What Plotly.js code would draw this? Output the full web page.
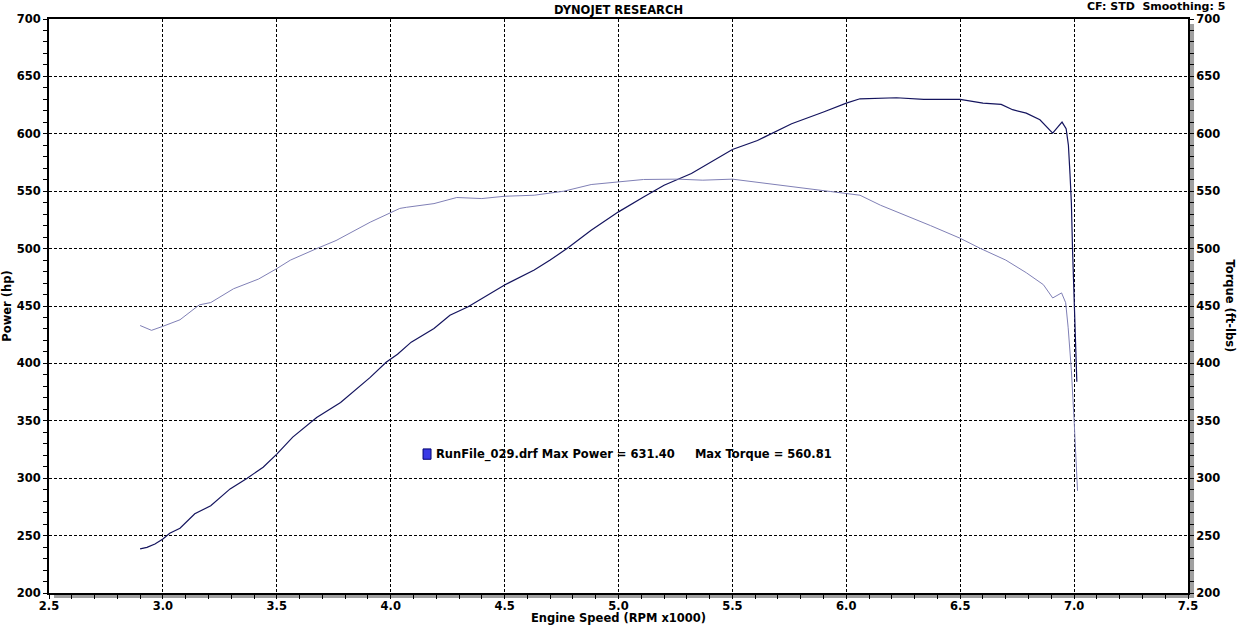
<!DOCTYPE html>
<html>
<head>
<meta charset="utf-8">
<script src="https://cdn.plot.ly/plotly-3.0.1.min.js"></script>
<style>html,body{margin:0;padding:0;background:#fff;}#chart{width:1237px;height:625px;}</style>
</head>
<body>
<div id="chart"></div>
<script>
// Engine speed (RPM x1000) and Power (hp)
var powerRpm = [2.90,2.93,2.965,3.00,3.03,3.075,3.14,3.21,3.295,3.37,3.44,3.50,3.57,3.675,3.78,3.91,3.98,4.03,4.09,4.19,4.26,4.34,4.50,4.63,4.70,4.78,4.88,5.00,5.11,5.20,5.32,5.40,5.50,5.61,5.76,5.90,6.00,6.06,6.22,6.34,6.50,6.60,6.68,6.73,6.79,6.85,6.906,6.928,6.947,6.965,6.975,6.982,6.988,6.993,7.000,7.007,7.012];
var power    = [238.5,239.8,242.7,247,252,256.4,269,276,290.7,300,309.6,321,335.8,352.9,366,387.8,401,408,418.5,430.5,442,449.4,468.3,481.4,490,500.9,516,532,545,555.2,565.4,574.7,586.3,594.2,608.7,619,626.7,630.5,631.4,629.9,629.9,626.7,625.6,621,618,612.2,600.6,605.8,610.2,604.4,590,565,540,500,455,425,384];
// Engine speed (RPM x1000) and Torque (ft-lbs)
var torqueRpm = [2.90,2.95,3.00,3.075,3.16,3.21,3.31,3.42,3.50,3.56,3.675,3.76,3.91,4.00,4.04,4.07,4.19,4.29,4.40,4.50,4.63,4.76,4.88,5.00,5.11,5.26,5.37,5.50,5.60,5.75,5.90,6.00,6.06,6.15,6.26,6.37,6.50,6.59,6.70,6.79,6.865,6.906,6.945,6.963,6.974,6.988,7.000,7.007,7.015];
var torque    = [433,428.8,432.3,438,451,453,465,473.5,482.6,490,500,507,523,531,535,536,539.2,544.5,543.6,545.6,546.5,550,555.8,558.1,560.2,560.5,559.6,560.5,558,554.7,551,548.5,546.5,537.8,529,520,509,500,490,479,468.6,457,461.4,452.9,431,394,350.6,322,289];
var xTickVals = [2.5,3.0,3.5,4.0,4.5,5.0,5.5,6.0,6.5,7.0,7.5];
var xTickText = ['2.5','3.0','3.5','4.0','4.5','5.0','5.5','6.0','6.5','7.0','7.5'];
var yTickVals = [200,250,300,350,400,450,500,550,600,650,700];
var runLabel = 'RunFile_029.drf Max Power = 631.40     Max Torque = 560.81';

var F = 'DejaVu Sans, Verdana, sans-serif';
var bold = {family: F, size: 11.5, color: '#000', weight: 'bold'};
var boldSmall = {family: F, size: 11, color: '#000', weight: 'bold'};

var traces = [
  {x: powerRpm, y: power, type: 'scatter', mode: 'lines', name: 'Power',
   line: {color: '#14145e', width: 1.2}, xaxis: 'x', yaxis: 'y', hoverinfo: 'x+y'},
  {x: torqueRpm, y: torque, type: 'scatter', mode: 'lines', name: 'Torque',
   line: {color: '#8080b6', width: 1.0}, xaxis: 'x', yaxis: 'y2', hoverinfo: 'x+y'}
];

var gridCommon = {griddash: '3px,2px', gridcolor: '#000', gridwidth: 1};

var layout = {
  width: 1237, height: 625,
  margin: {l: 49, r: 49, t: 19, b: 32},
  paper_bgcolor: '#fff', plot_bgcolor: '#fff',
  showlegend: false,
  title: {text: 'DYNOJET RESEARCH', font: bold, x: 0.5, xanchor: 'center', y: 0.984, yanchor: 'middle', yref: 'container'},
  xaxis: Object.assign({
    range: [2.5, 7.5], tickvals: xTickVals, ticktext: xTickText,
    showgrid: true, zeroline: false,
    showline: true, linecolor: '#000', linewidth: 2, mirror: true,
    ticks: 'outside', ticklen: 4, tickcolor: '#000', tickwidth: 1,
    minor: {dtick: 0.1, ticks: 'outside', ticklen: 4, tickcolor: '#000', showgrid: false},
    tickfont: bold, ticklabelstandoff: -3,
    title: {text: 'Engine Speed (RPM x1000)', font: bold, standoff: 0},
    automargin: false
  }, gridCommon),
  xaxis2: {
    overlaying: 'x', anchor: 'y', side: 'bottom', range: [2.5, 7.5],
    tickvals: xTickVals, showticklabels: false, showgrid: false, zeroline: false,
    ticks: 'inside', ticklen: 4, tickcolor: '#000',
    minor: {dtick: 0.1, ticks: 'inside', ticklen: 4, tickcolor: '#000', showgrid: false}
  },
  yaxis: Object.assign({
    range: [200, 700], tickvals: yTickVals,
    showgrid: true, zeroline: false,
    showline: true, linecolor: '#000', linewidth: 2, mirror: true,
    ticks: 'outside', ticklen: 4, tickcolor: '#000',
    minor: {dtick: 10, ticks: 'outside', ticklen: 4, tickcolor: '#000', showgrid: false},
    tickfont: bold,
    title: {text: 'Power (hp)', font: bold, standoff: 4},
    automargin: false
  }, gridCommon),
  yaxis2: {
    overlaying: 'y', side: 'right', anchor: 'x', range: [200, 700], tickvals: yTickVals,
    showgrid: false, zeroline: false, showline: true, linecolor: '#000', linewidth: 2,
    ticks: 'outside', ticklen: 4, tickcolor: '#000',
    minor: {dtick: 10, ticks: 'outside', ticklen: 4, tickcolor: '#000', showgrid: false},
    tickfont: bold, automargin: false
  },
  yaxis3: {
    overlaying: 'y', side: 'left', anchor: 'x', range: [200, 700], tickvals: yTickVals,
    showgrid: false, zeroline: false, showticklabels: false,
    ticks: 'inside', ticklen: 4, tickcolor: '#000',
    minor: {dtick: 10, ticks: 'inside', ticklen: 4, tickcolor: '#000', showgrid: false}
  },
  yaxis4: {
    overlaying: 'y', side: 'right', anchor: 'x', range: [200, 700], tickvals: yTickVals,
    showgrid: false, zeroline: false, showticklabels: false,
    ticks: 'inside', ticklen: 4, tickcolor: '#000',
    minor: {dtick: 10, ticks: 'inside', ticklen: 4, tickcolor: '#000', showgrid: false}
  },
  shapes: [
    {type: 'rect', xref: 'paper', yref: 'paper', x0: 1.0009, x1: 1.0053, y0: -0.0087, y1: 0.9913,
     fillcolor: '#a0a0a0', line: {width: 0}, layer: 'below'},
    {type: 'rect', xref: 'paper', yref: 'paper', x0: 0.0044, x1: 1.0053, y0: -0.0087, y1: -0.0017,
     fillcolor: '#a0a0a0', line: {width: 0}, layer: 'below'},
    {type: 'rect', xref: 'x', yref: 'y', x0: 4.142, x1: 4.177, y0: 316.5, y1: 325.5,
     fillcolor: '#3a3ae6', line: {color: '#000070', width: 1}, layer: 'above'}
  ],
  annotations: [
    {text: runLabel, xref: 'x', yref: 'y', x: 4.19, y: 320.5, xanchor: 'left', yanchor: 'middle',
     showarrow: false, font: bold, bgcolor: 'rgba(255,255,255,0)'},
    {text: 'CF: STD  Smoothing: 5', xref: 'paper', yref: 'paper', x: 1.0343, y: 1.0215,
     xanchor: 'right', yanchor: 'middle', showarrow: false, font: boldSmall},
    {text: 'Torque (ft-lbs)', xref: 'paper', yref: 'paper', x: 1.0365, y: 0.50,
     xanchor: 'center', yanchor: 'middle', textangle: 90, showarrow: false, font: bold}
  ]
};

Plotly.newPlot('chart', traces, layout, {displayModeBar: false, staticPlot: true});
</script>
</body>
</html>
